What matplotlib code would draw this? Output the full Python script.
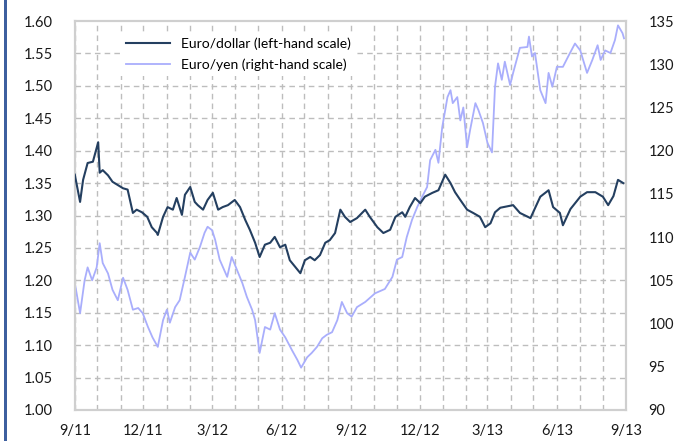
import numpy as np
import pandas as pd
import matplotlib
matplotlib.use("Agg")
import matplotlib.pyplot as plt
import matplotlib.dates as mdates
from matplotlib.patches import Rectangle

plt.rcParams['font.family'] = ['Lato', 'DejaVu Sans']

start = pd.Timestamp('2011-09-01')
end = pd.Timestamp('2013-09-01')

# euro/dollar, days after 1 Sep 2011 -> rate
usd_days = [0, 7, 11, 17, 24, 31, 33, 37, 44, 50, 57, 64, 70, 77, 82, 89, 96, 102, 109, 110,
            117, 123, 130, 135, 142, 146, 153, 159, 163, 170, 176, 183, 190, 196, 203, 212, 219,
            226, 232, 239, 245, 252, 259, 265, 272, 279, 285, 292, 299, 305, 312, 318, 325, 332,
            338, 345, 352, 358, 365, 374, 385, 391, 401, 409, 418, 425, 434, 438, 444, 451, 458,
            464, 474, 482, 491, 498, 504, 511, 520, 528, 537, 544, 551, 557, 564, 581, 590, 604,
            617, 628, 634, 643, 647, 657, 670, 679, 690, 700, 707, 714, 720, 727]
usd = [1.363, 1.321, 1.355, 1.381, 1.383, 1.413, 1.366, 1.37, 1.362, 1.352, 1.347, 1.342, 1.34,
       1.304, 1.309, 1.305, 1.298, 1.282, 1.273, 1.27, 1.298, 1.313, 1.309, 1.327, 1.301, 1.332,
       1.344, 1.321, 1.316, 1.309, 1.324, 1.335, 1.309, 1.313, 1.316, 1.324, 1.313, 1.293, 1.278,
       1.258, 1.236, 1.255, 1.258, 1.267, 1.251, 1.255, 1.231, 1.221, 1.211, 1.231, 1.236, 1.231,
       1.239, 1.258, 1.262, 1.273, 1.309, 1.298, 1.29, 1.296, 1.309, 1.298, 1.282, 1.273, 1.278,
       1.298, 1.305, 1.298, 1.313, 1.327, 1.319, 1.329, 1.335, 1.339, 1.363, 1.35, 1.336, 1.324,
       1.309, 1.304, 1.298, 1.282, 1.288, 1.305, 1.312, 1.316, 1.304, 1.296, 1.329, 1.339, 1.313,
       1.304, 1.285, 1.31, 1.329, 1.336, 1.336, 1.329, 1.316, 1.33, 1.355, 1.35]

# euro/yen
jpy_days = [0, 7, 13, 17, 23, 29, 33, 37, 44, 50, 57, 64, 70, 77, 84, 90, 97, 103, 110, 117, 122,
            126, 133, 139, 146, 153, 159, 166, 172, 176, 182, 186, 192, 202, 208, 215, 222, 228,
            235, 239, 245, 252, 259, 265, 272, 279, 288, 295, 300, 308, 314, 321, 328, 334, 341,
            348, 354, 361, 367, 374, 385, 398, 411, 421, 427, 434, 440, 447, 454, 460, 467, 471,
            478, 482, 487, 494, 498, 501, 507, 511, 515, 520, 524, 531, 535, 541, 547, 553, 557,
            561, 566, 570, 577, 581, 590, 600, 602, 606, 610, 617, 624, 628, 633, 639, 647, 654,
            663, 670, 679, 686, 693, 697, 703, 710, 716, 720, 726, 728]
jpy = [104.7, 101.2, 105, 106.5, 105, 106.5, 109.3, 107, 105.8, 103.9, 102.7, 105.3, 103.9, 101.6,
       101.8, 101.2, 99.6, 98.4, 97.3, 100.4, 101.6, 100.1, 101.9, 102.7, 105.4, 108.2, 107.4,
       108.9, 110.5, 111.2, 110.8, 109.7, 107.4, 105.4, 107.7, 106.2, 104.7, 103.1, 101.6, 100.4,
       96.6, 99.6, 99.3, 101.2, 99.3, 98.4, 96.9, 95.8, 94.9, 96.1, 96.6, 97.3, 98.3, 98.7, 99,
       100.4, 102.5, 101.2, 100.8, 101.9, 102.5, 103.5, 104, 105.4, 107.4, 107.7, 110, 112, 113.5,
       114.6, 115.8, 118.9, 120.1, 118.6, 122.7, 126.2, 127, 125.5, 126.2, 123.5, 125, 120.4,
       122.4, 125.5, 124.7, 123.2, 120.9, 119.8, 127.4, 130.1, 128.2, 130.3, 127.6, 129, 131.9,
       132, 133.2, 130.9, 131.3, 127, 125.5, 129, 127.4, 129.7, 129.7, 130.9, 132.4, 131.6, 129,
       130.5, 132.2, 130.5, 131.6, 131.3, 132.8, 134.5, 133.6, 133]

usd_dates = start + pd.to_timedelta(usd_days, unit='D')
jpy_dates = start + pd.to_timedelta(jpy_days, unit='D')

fig = plt.figure(figsize=(6.8, 4.41), dpi=100)
ax = fig.add_axes([0.110, 0.0703, 0.811, 0.882])
ax2 = ax.twinx()

ax.plot(usd_dates, usd, color='#243f60', lw=1.5, label='Euro/dollar (left-hand scale)', zorder=3)
ax2.plot(jpy_dates, jpy, color='#a9aefc', lw=1.3, label='Euro/yen (right-hand scale)', zorder=2)
ax.set_zorder(ax2.get_zorder() + 1)
ax.patch.set_visible(False)

ax.set_xlim(start, end)
ax.set_ylim(1.0, 1.6)
ax.set_yticks(np.arange(1.0, 1.601, 0.05))
ax.yaxis.set_major_formatter(plt.FuncFormatter(lambda v, p: f'{v:.2f}'))
ax2.set_ylim(90, 135)
ax2.set_yticks(np.arange(90, 136, 5))

ax.xaxis.set_major_locator(mdates.MonthLocator(bymonth=[3, 6, 9, 12]))
ax.xaxis.set_minor_locator(mdates.MonthLocator())
ax.xaxis.set_major_formatter(plt.FuncFormatter(
    lambda v, p: f'{mdates.num2date(v).month}/{mdates.num2date(v).year % 100}'))

# grid lives on the back axes so lines draw over it
ax2.set_xlim(start, end)
ax2.xaxis.set_minor_locator(mdates.MonthLocator())
for v in mdates.date2num(pd.date_range(start, end, freq='MS')):
    ax2.axvline(v, color='#bdbdbd', lw=1, ls=(0, (4, 3)), zorder=0)
for v in np.arange(1.05, 1.6, 0.05):
    ax2.axhline(90 + (v - 1.0) / 0.6 * 45, color='#bdbdbd', lw=1, ls=(0, (4, 3)), zorder=0)

for a in (ax, ax2):
    a.tick_params(length=0, labelsize=10.5, colors='#1a1a1a')
    a.tick_params(which='minor', length=0)
    for s in a.spines.values():
        s.set_color('#cfcfcf')
        s.set_linewidth(1.5)
ax.tick_params(axis='y', pad=16)
ax2.tick_params(axis='y', pad=16)
ax.tick_params(axis='x', pad=10)

h1, l1 = ax.get_legend_handles_labels()
h2, l2 = ax2.get_legend_handles_labels()
leg = ax.legend(h1 + h2, l1 + l2, loc='upper left', bbox_to_anchor=(0.07, 0.99),
                frameon=True, fontsize=10, handlelength=3.2, labelspacing=0.6,
                borderpad=0.4, fancybox=False)
leg.get_frame().set_edgecolor('none')
leg.get_frame().set_facecolor('white')
leg.get_frame().set_alpha(1)

fig.add_artist(Rectangle((4 / 680, 0), 3 / 680, 1, transform=fig.transFigure,
                         color='#3d5f9f', lw=0))

fig.savefig('out.png', dpi=100)
